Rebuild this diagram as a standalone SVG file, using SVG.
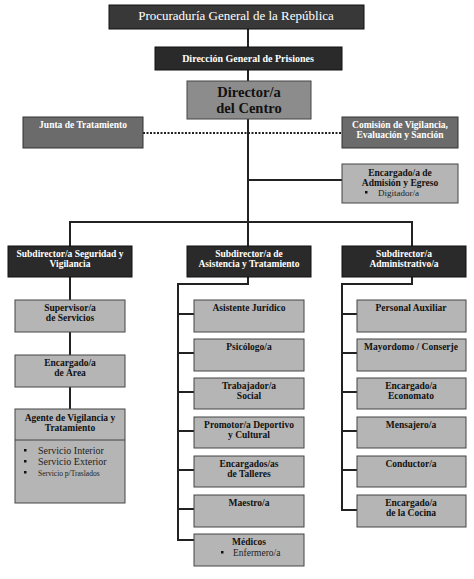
<svg xmlns="http://www.w3.org/2000/svg" width="474" height="579" viewBox="0 0 474 579">
<style>
text{font-family:"Liberation Serif","Times New Roman",serif;text-anchor:middle}
.b{font-weight:bold;font-size:9.5px}
.w{fill:#fff}
.k{fill:#111}
.dark{fill:#2a2a2a;stroke:#111;stroke-width:1}
.mid{fill:#6b6b6b;stroke:#333;stroke-width:1}
.dir{fill:#8c8c8c;stroke:#444;stroke-width:1}
.lt{fill:#b5b5b5;stroke:#444;stroke-width:1}
.ln{fill:none;stroke:#222;stroke-width:2}
.dot{fill:none;stroke:#222;stroke-width:2;stroke-dasharray:2 1.5}
.bl{font-size:9.5px;text-anchor:start;fill:#222}
.sq{fill:#111}
</style>
<rect width="474" height="579" fill="#fff"/>
<g id="connectors">
<path class="ln" d="M248 29V246"/>
<path class="dot" d="M143 133H342"/>
<path class="ln" d="M248 180H342"/>
<path class="ln" d="M70 246V222H412V246"/>
<path class="ln" d="M70 277V409"/>
<path class="ln" d="M248 277V284H178V540H194"/>
<path class="ln" d="M178 314H194M178 353H194M178 392H194M178 431H194M178 470H194M178 509H194"/>
<path class="ln" d="M412 277V284H342V510H357"/>
<path class="ln" d="M342 314H357M342 353H357M342 392H357M342 431H357M342 470H357"/>
</g>
<g id="procuraduria"><rect class="dark" x="109" y="5" width="255" height="24" style="fill:#383838"/><text x="236" y="19.5" class="w" font-size="13">Procuraduría General de la República</text></g>
<g id="direccion"><rect class="dark" x="155" y="47" width="187" height="23"/><text x="248" y="62" class="w b" style="font-size:10px">Dirección General de Prisiones</text></g>
<g id="director"><rect class="dir" x="187" y="81" width="124" height="38"/><text x="249" y="97" class="k" font-weight="bold" font-size="14.5">Director/a</text><text x="249" y="112.5" class="k" font-weight="bold" font-size="14.5">del Centro</text></g>
<g id="junta"><rect class="mid" x="23" y="117" width="120" height="31"/><text x="83" y="128" class="w b">Junta de Tratamiento</text></g>
<g id="comision"><rect class="mid" x="342" y="117" width="116" height="31"/><text x="400" y="128" class="w b">Comisión de Vigilancia,</text><text x="400" y="137.5" class="w b">Evaluación y Sanción</text></g>
<g id="admision"><rect class="lt" x="342" y="164" width="116" height="39"/><text x="400" y="176" class="k b">Encargado/a de</text><text x="400" y="185.5" class="k b">Admisión y Egreso</text><rect class="sq" x="365" y="191" width="2.5" height="2.5"/><text x="378" y="195.5" class="bl" style="font-size:9px">Digitador/a</text></g>
<g id="sub-seguridad"><rect class="dark" x="8" y="246" width="124" height="31"/><text x="70" y="256.5" class="w b">Subdirector/a Seguridad y</text><text x="70" y="266.5" class="w b">Vigilancia</text></g>
<g id="sub-asistencia"><rect class="dark" x="187" y="246" width="124" height="31"/><text x="249" y="256.5" class="w b">Subdirector/a de</text><text x="249" y="266.5" class="w b">Asistencia y Tratamiento</text></g>
<g id="sub-administrativo"><rect class="dark" x="342" y="246" width="124" height="31"/><text x="404" y="256.5" class="w b">Subdirector/a</text><text x="404" y="266.5" class="w b">Administrativo/a</text></g>
<g id="supervisor"><rect class="lt" x="15" y="300" width="110" height="32"/><text x="70" y="311" class="k b">Supervisor/a</text><text x="70" y="321" class="k b">de Servicios</text></g>
<g id="encargado-area"><rect class="lt" x="15" y="355" width="110" height="32"/><text x="70" y="366" class="k b">Encargado/a</text><text x="70" y="376" class="k b">de Área</text></g>
<g id="agente"><rect class="lt" x="15" y="409" width="110" height="94"/><path d="M15 440H125" stroke="#444" stroke-width="1"/><text x="70" y="421" class="k b">Agente de Vigilancia y</text><text x="70" y="430.5" class="k b">Tratamiento</text>
<rect class="sq" x="24" y="449" width="2.5" height="2.5"/><text x="38" y="454" class="bl" style="font-size:10px">Servicio Interior</text>
<rect class="sq" x="24" y="460" width="2.5" height="2.5"/><text x="38" y="465" class="bl" style="font-size:10px">Servicio Exterior</text>
<rect class="sq" x="24" y="471" width="2.5" height="2.5"/><text x="38" y="476" class="bl" style="font-size:7.5px">Servicio p/Traslados</text></g>
<g id="asistente"><rect class="lt" x="194" y="300" width="110" height="32"/><text x="249" y="311" class="k b">Asistente Jurídico</text></g>
<g id="psicologo"><rect class="lt" x="194" y="339" width="110" height="32"/><text x="249" y="350" class="k b">Psicólogo/a</text></g>
<g id="trabajador"><rect class="lt" x="194" y="378" width="110" height="31"/><text x="249" y="389" class="k b">Trabajador/a</text><text x="249" y="399" class="k b">Social</text></g>
<g id="promotor"><rect class="lt" x="194" y="417" width="110" height="31"/><text x="249" y="428" class="k b">Promotor/a Deportivo</text><text x="249" y="438" class="k b">y Cultural</text></g>
<g id="talleres"><rect class="lt" x="194" y="456" width="110" height="31"/><text x="249" y="467" class="k b">Encargados/as</text><text x="249" y="477" class="k b">de Talleres</text></g>
<g id="maestro"><rect class="lt" x="194" y="495" width="110" height="32"/><text x="249" y="506" class="k b">Maestro/a</text></g>
<g id="medicos"><rect class="lt" x="194" y="534" width="110" height="32"/><text x="249" y="545" class="k b">Médicos</text><rect class="sq" x="221" y="551" width="2.5" height="2.5"/><text x="233" y="556" class="bl">Enfermero/a</text></g>
<g id="personal"><rect class="lt" x="357" y="300" width="109" height="32"/><text x="411" y="311" class="k b">Personal Auxiliar</text></g>
<g id="mayordomo"><rect class="lt" x="357" y="339" width="109" height="32"/><text x="411" y="350" class="k b">Mayordomo / Conserje</text></g>
<g id="economato"><rect class="lt" x="357" y="378" width="109" height="31"/><text x="411" y="389" class="k b">Encargado/a</text><text x="411" y="399" class="k b">Economato</text></g>
<g id="mensajero"><rect class="lt" x="357" y="417" width="109" height="31"/><text x="411" y="428" class="k b">Mensajero/a</text></g>
<g id="conductor"><rect class="lt" x="357" y="456" width="109" height="31"/><text x="411" y="467" class="k b">Conductor/a</text></g>
<g id="cocina"><rect class="lt" x="357" y="495" width="109" height="32"/><text x="411" y="506" class="k b">Encargado/a</text><text x="411" y="516" class="k b">de  la Cocina</text></g>
</svg>
